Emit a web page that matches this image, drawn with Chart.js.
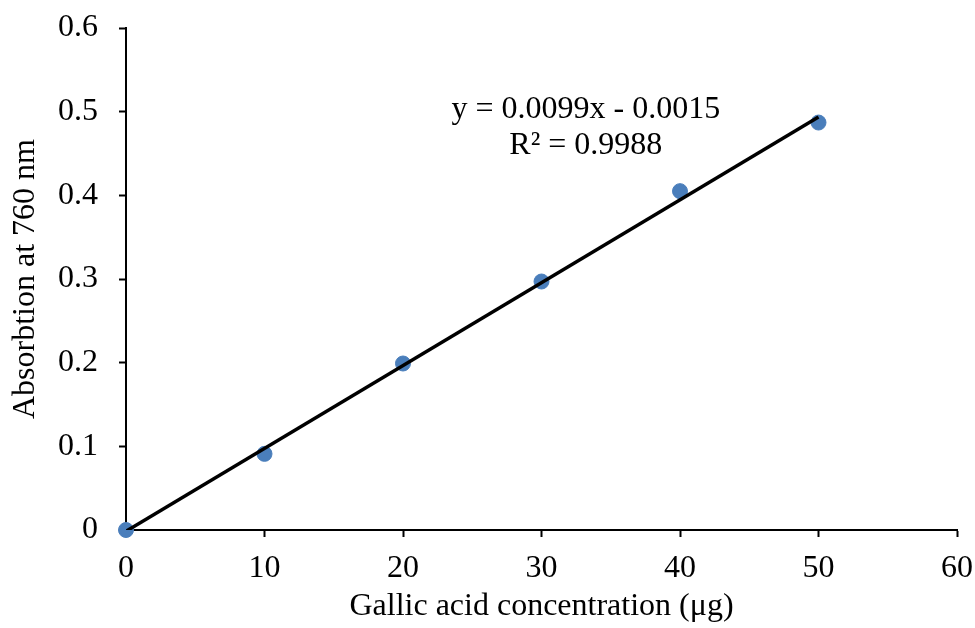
<!DOCTYPE html>
<html>
<head>
<meta charset="utf-8">
<script src="https://cdn.jsdelivr.net/npm/chart.js@4/dist/chart.umd.min.js"></script>
<style>
  html, body { margin:0; padding:0; background:#fff; }
  #wrap { width:975px; height:628px; position:relative; }
</style>
</head>
<body>
<div id="wrap"><canvas id="chart" width="975" height="628"></canvas></div>
<script>
// ── Data ───────────────────────────────────────────────────────────────
const concentration = [0, 10, 20, 30, 40, 50];
const absorbance    = [0, 0.091, 0.199, 0.297, 0.405, 0.487];
const slope = 0.0099, intercept = -0.0015;
const trendX = [0, 50];
const eqLabel = "y = 0.0099x - 0.0015";
const r2Label = "R² = 0.9988";

const FONT = "'Liberation Serif', 'Times New Roman', serif";
Chart.defaults.font.family = FONT;
Chart.defaults.color = "#000";

const points = concentration.map((x,i)=>({x, y:absorbance[i]}));
const trend = trendX.map(x=>({x, y:slope*x+intercept}));

// equation text, placed relative to chart area
const eqPlugin = {
  id:"eq",
  afterDatasetsDraw(chart){
    const {ctx, scales:{x, y}} = chart;
    ctx.save();
    ctx.fillStyle = "#000";
    ctx.font = `32px ${FONT}`;
    ctx.textAlign = "center";
    ctx.textBaseline = "middle";
    ctx.fillText(eqLabel, x.getPixelForValue(33.2), y.getPixelForValue(0.502));
    ctx.fillText(r2Label, x.getPixelForValue(33.2), y.getPixelForValue(0.459));
    ctx.restore();
  }
};

new Chart(document.getElementById("chart").getContext("2d"), {
  type:"scatter",
  data:{ datasets:[
    { type:"line", data:trend, borderColor:"#000", borderWidth:3.5, pointRadius:0, fill:false, order:1 },
    { data:points, backgroundColor:"#4a7ebb", borderColor:"#4a7ebb", pointRadius:7.5, clip:false, order:2 }
  ]},
  options:{
    responsive:false, animation:false,
    layout:{ padding:{ top:28, right:18 } },
    plugins:{ legend:{display:false}, tooltip:{enabled:false} },
    scales:{
      x:{
        type:"linear", min:0, max:60,
        ticks:{ stepSize:10, font:{size:32}, padding:12, color:"#000" },
        grid:{ drawOnChartArea:false, drawTicks:true, tickLength:7, tickColor:"#000", tickWidth:2 },
        border:{ color:"#000", width:2 },
        title:{ display:true, text:"Gallic acid concentration (μg)", font:{size:32}, color:"#000", padding:{top:0, bottom:2} },
        afterFit(s){ s.height = 98; s.paddingLeft = 0; s.paddingRight = 0; }
      },
      y:{
        min:0, max:0.6,
        ticks:{ stepSize:0.1, font:{size:32}, padding:21, color:"#000", callback:v=>+v.toFixed(1) },
        grid:{ drawOnChartArea:false, drawTicks:true, tickLength:7, tickColor:"#000", tickWidth:2 },
        border:{ color:"#000", width:2 },
        title:{ display:true, text:"Absorbtion at 760 nm", font:{size:32}, color:"#000", padding:{top:6, bottom:0} },
        afterFit(s){ s.width = 126; s.paddingTop = 0; s.paddingBottom = 0; }
      }
    }
  },
  plugins:[eqPlugin]
});
</script>
</body>
</html>
